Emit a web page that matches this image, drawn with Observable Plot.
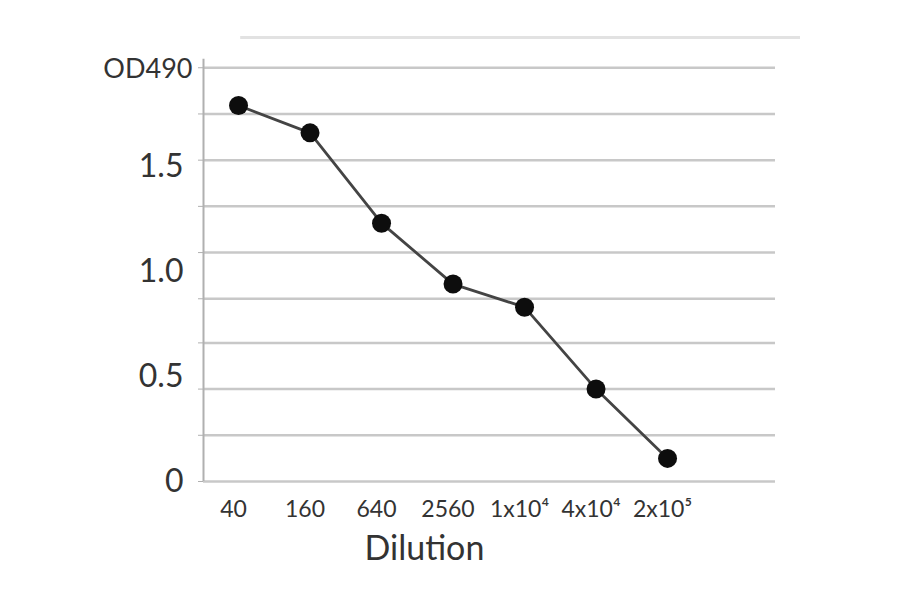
<!DOCTYPE html>
<html><head><meta charset="utf-8">
<script src="https://cdn.jsdelivr.net/npm/d3@7"></script>
<script src="https://cdn.jsdelivr.net/npm/@observablehq/plot@0.6"></script>
<style>body{margin:0;background:#fff}</style>
</head><body><div id="chart"></div>
<script>
const dilutions = ["40", "160", "640", "2560", "1x10⁴", "4x10⁴", "2x10⁵"];
const od490 = [1.79, 1.66, 1.23, 0.94, 0.83, 0.44, 0.11];
const gridValues = [0, 0.22, 0.44, 0.66, 0.87, 1.09, 1.31, 1.53, 1.75, 1.97];
const yTickValues = [0, 0.5, 1.0, 1.5];
const yTickLabels = ["0", "0.5", "1.0", "1.5"];
const yTitle = "OD490";
const xTitle = "Dilution";

const data = dilutions.map((d, i) => ({i, dilution: d, od: od490[i]}));

const plot = Plot.plot({
  width: 900, height: 594,
  marginLeft: 203, marginRight: 125, marginTop: 37, marginBottom: 113,
  style: {fontFamily: "Lato, 'Open Sans', sans-serif", background: "#fff", color: "#333", overflow: "visible"},
  x: {type: "linear", domain: [-0.49, 7.51], axis: null},
  y: {domain: [0, 2.114], axis: null},
  marks: [
    Plot.ruleY([2.114], {x1: 0.03, x2: 7.86, stroke: "#e2e2e2", strokeWidth: 3}),
    Plot.ruleY(gridValues, {stroke: "#c8c8c8", strokeWidth: 2.5}),
    Plot.ruleX([-0.49], {y1: 0, y2: 2.01, stroke: "#b0b0b0", strokeWidth: 2}),
    Plot.axisY({ticks: gridValues, tickSize: 5, tickFormat: () => "", stroke: "#b0b0b0", label: null}),
    Plot.axisY({ticks: yTickValues, tickSize: 0, tickPadding: 20, fontSize: 32,
      tickFormat: (d, i) => yTickLabels[yTickValues.indexOf(d)], label: null}),
    Plot.text([{t: yTitle, y: 1.96}], {y: "y", text: "t", frameAnchor: "left", textAnchor: "end", dx: -11, fontSize: 27, fill: "#333"}),
    Plot.text(data, {x: "i", text: "dilution", frameAnchor: "bottom", dy: 35, dx: -5, fontSize: 23, fill: "#333"}),
    Plot.text([{t: xTitle, x: 2.6}], {x: "x", text: "t", frameAnchor: "bottom", dy: 78, fontSize: 34, fill: "#333"}),
    Plot.line(data, {x: "i", y: "od", stroke: "#444", strokeWidth: 2.8}),
    Plot.dot(data, {x: "i", y: "od", r: 9.5, fill: "#0d0d0d", stroke: "none"})
  ]
});
document.getElementById("chart").appendChild(plot);
</script>
</body></html>
